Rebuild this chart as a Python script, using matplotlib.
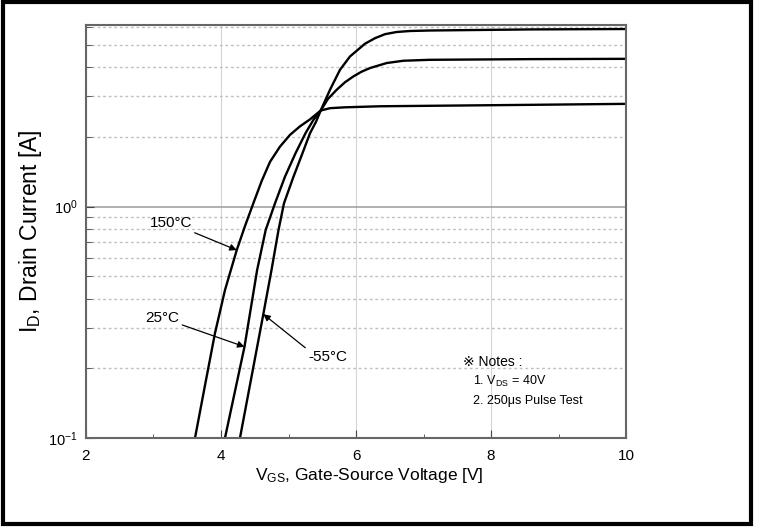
import matplotlib
matplotlib.use('Agg')
import matplotlib.pyplot as plt
from matplotlib.patches import Rectangle
from matplotlib.ticker import LogLocator, NullFormatter, FixedLocator

plt.rcParams['font.family'] = ['Liberation Sans', 'DejaVu Sans', 'Noto Sans CJK JP']
plt.rcParams['mathtext.default'] = 'regular'

# transfer characteristics, Vgs [V] vs Id [A]
vgs_150 = [3.615, 3.763, 3.911, 4.059, 4.233, 4.356, 4.479, 4.603, 4.726, 4.874,
           5.022, 5.170, 5.319, 5.477, 5.615, 5.837, 6.356, 7.096, 8.578, 10.0]
id_150 = [0.100, 0.169, 0.284, 0.436, 0.649, 0.825, 1.034, 1.292, 1.562, 1.818,
          2.043, 2.224, 2.385, 2.603, 2.665, 2.688, 2.716, 2.729, 2.755, 2.782]

vgs_25 = [4.059, 4.348, 4.535, 4.662, 4.800, 4.948, 5.104, 5.252, 5.370, 5.477,
          5.585, 5.714, 5.837, 5.960, 6.081, 6.207, 6.455, 6.701, 7.096, 8.578, 10.0]
id_25 = [0.100, 0.248, 0.532, 0.793, 1.034, 1.348, 1.702, 2.078, 2.374, 2.603,
         2.925, 3.201, 3.450, 3.654, 3.830, 3.973, 4.177, 4.273, 4.313, 4.342, 4.355]

vgs_m55 = [4.281, 4.627, 4.748, 4.852, 4.933, 5.074, 5.207, 5.319, 5.407, 5.477,
           5.615, 5.763, 5.911, 6.059, 6.133, 6.281, 6.430, 6.603, 6.800, 7.096,
           8.578, 10.0]
id_m55 = [0.100, 0.343, 0.532, 0.793, 1.034, 1.348, 1.702, 2.078, 2.326, 2.603,
          3.203, 3.906, 4.460, 4.852, 5.062, 5.348, 5.567, 5.689, 5.745, 5.774,
          5.836, 5.860]

fig = plt.figure(figsize=(7.59, 5.27), dpi=100)
ax = fig.add_axes([0.1133, 0.1689, 0.7115, 0.7837])

# outer frame
fig.patches.append(Rectangle((0.004, 0.006), 0.986, 0.99, transform=fig.transFigure,
                             fill=False, edgecolor='black', linewidth=3))

for v, i in [(vgs_150, id_150), (vgs_25, id_25), (vgs_m55, id_m55)]:
    ax.plot(v, i, color='black', lw=1.7, solid_joinstyle='round')

ax.set_yscale('log')
ax.set_xlim(2, 10)
ax.set_ylim(0.1, 6.1)

ax.set_xticks([2, 4, 6, 8, 10])
ax.xaxis.set_minor_locator(FixedLocator([3, 5, 7, 9]))
ax.yaxis.set_major_locator(FixedLocator([0.1, 1]))
ax.set_yticklabels([r'$10^{-1}$', r'$10^{0}$'])
ax.yaxis.set_minor_locator(LogLocator(base=10, subs=range(2, 10)))
ax.yaxis.set_minor_formatter(NullFormatter())

ax.tick_params(which='both', direction='in', top=False, right=False,
               labelsize=11, colors='#444444', labelcolor='black')
ax.tick_params(axis='x', which='major', length=6, pad=8)
ax.tick_params(axis='x', which='minor', length=3)
ax.tick_params(axis='y', which='major', length=6, pad=6, labelsize=10.5)
ax.tick_params(axis='y', which='minor', length=4)

ax.grid(True, axis='x', which='major', color='#d4d4d4', lw=0.8)
ax.grid(True, axis='y', which='major', color='#9a9a9a', lw=1.1)
ax.grid(True, axis='y', which='minor', color='#c0c0c0', lw=1.0, ls=(0, (2, 2)))

for s in ax.spines.values():
    s.set_color('#666666')
    s.set_linewidth(1.5)

ax.set_xlabel(r'V$_{GS}$, Gate-Source Voltage [V]', fontsize=12.5)
ax.xaxis.set_label_coords(0.525, -0.068)
ax.set_ylabel(r'I$_{D}$, Drain Current [A]', fontsize=16.5)
ax.yaxis.set_label_coords(-0.078, 0.50)

arrow = dict(arrowstyle='-|>', color='black', lw=0.9, mutation_scale=10, shrinkA=0, shrinkB=0)
ax.annotate('150°C', xy=(4.233, 0.649), xytext=(3.259, 0.85), fontsize=11,
            ha='center', va='center', arrowprops=arrow)
ax.annotate('25°C', xy=(4.348, 0.248), xytext=(3.133, 0.330), fontsize=11,
            ha='center', va='center', arrowprops=arrow)
ax.annotate('-55°C', xy=(4.627, 0.343), xytext=(5.578, 0.224), fontsize=11,
            ha='center', va='center', arrowprops=dict(arrow, relpos=(0.0, 1.0)))

ax.text(0.698, 0.185, '※ Notes :', transform=ax.transAxes, fontsize=10, va='center')
ax.text(0.717, 0.136, r'1. V$_{DS}$ = 40V', transform=ax.transAxes, fontsize=9, va='center')
ax.text(0.717, 0.090, '2. 250μs Pulse Test', transform=ax.transAxes, fontsize=9, va='center')

fig.savefig('out.png', dpi=100)
